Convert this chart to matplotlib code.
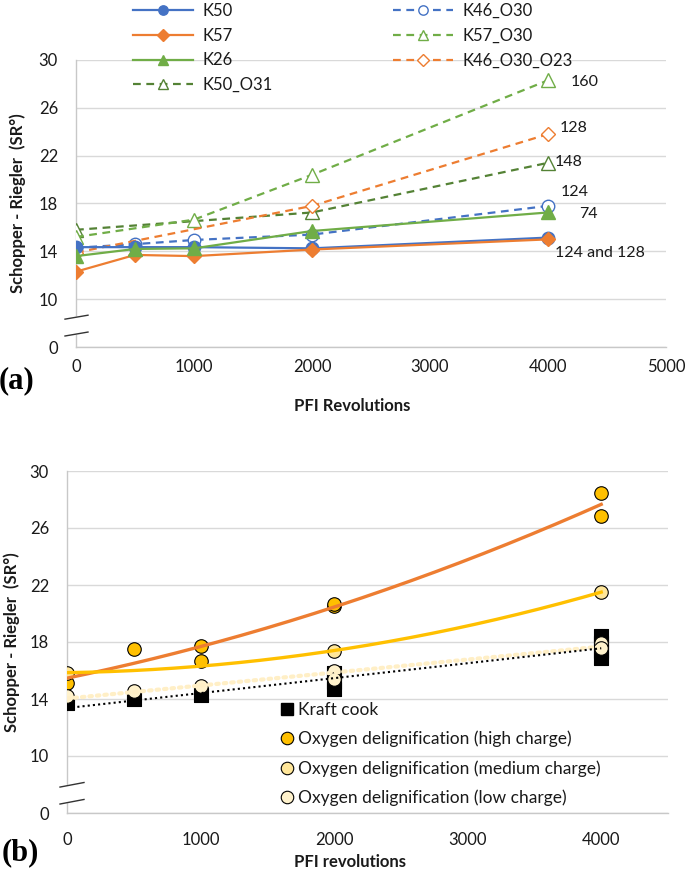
import matplotlib
matplotlib.use("Agg")
import matplotlib.pyplot as plt
from matplotlib.lines import Line2D
import numpy as np

plt.rcParams['font.family'] = ['Lato', 'DejaVu Sans']

# ---------------- data panel (a) ----------------
rev_a = [0, 500, 1000, 2000, 4000]
k50 = [14.35, 14.35, 14.35, 14.25, 15.15]
k57 = [12.3, 13.7, 13.6, 14.15, 15.0]
k26 = [13.6, 14.2, 14.25, 15.7, 17.25]
k46_o30 = [14.3, 14.6, 14.95, 15.4, 17.8]

rev_k50_o31 = [0, 2000, 4000]
k50_o31 = [15.8, 17.25, 21.4]
rev_k57_o30 = [0, 1000, 2000, 4000]
k57_o30 = [15.2, 16.65, 20.4, 28.3]
rev_k46_o30_o23 = [0, 2000, 4000]
k46_o30_o23 = [13.9, 17.8, 23.8]

end_labels = ['160', '128', '148', '124', '74', '124 and 128']
end_label_y = [28.2, 24.3, 21.5, 19.0, 17.1, 13.85]
end_label_x = [4190, 4095, 4060, 4110, 4265, 4060]

# ---------------- data panel (b) ----------------
kraft_x = [0, 500, 1000, 2000, 2000, 2000, 4000, 4000, 4000, 4000]
kraft_y = [13.7, 14.0, 14.3, 14.7, 15.2, 15.8, 16.9, 17.4, 17.9, 18.4]
high_x = [0, 500, 1000, 1000, 2000, 2000, 4000, 4000]
high_y = [15.15, 17.5, 17.75, 16.7, 20.5, 20.65, 28.45, 26.85]
med_x = [0, 2000, 4000]
med_y = [15.85, 17.4, 21.5]
low_x = [0, 500, 1000, 2000, 2000, 4000, 4000]
low_y = [14.2, 14.55, 14.9, 15.95, 15.4, 17.95, 17.6]

ytick_vals = [6, 10, 14, 18, 22, 26, 30]   # 6 is where the broken axis shows 0
ytick_labels = ['0', '10', '14', '18', '22', '26', '30']

blue = '#4472C4'
orange = '#ED7D31'
green = '#70AD47'
dgreen = '#548235'
grid_c = '#D9D9D9'
txt_c = '#1a1a1a'

W, H = 685, 875
fig = plt.figure(figsize=(W / 100, H / 100), dpi=100)


def px_axes(left, top, right, bottom):
    return fig.add_axes([left / W, 1 - bottom / H, (right - left) / W, (bottom - top) / H])


def style_axes(ax, xlim, xticks, xpad):
    ax.set_xlim(*xlim)
    ax.set_ylim(6, 30)
    ax.set_xticks(xticks)
    ax.set_yticks(ytick_vals)
    ax.set_yticklabels(ytick_labels)
    ax.grid(axis='y', color=grid_c, lw=1.0, zorder=0)
    ax.set_axisbelow(True)
    for s in ['top', 'right']:
        ax.spines[s].set_visible(False)
    for s in ['left', 'bottom']:
        ax.spines[s].set_color('#C8C8C8')
        ax.spines[s].set_linewidth(1.0)
    ax.tick_params(axis='both', length=0, labelsize=12, colors=txt_c)
    ax.tick_params(axis='y', pad=13)
    ax.tick_params(axis='x', pad=xpad)


def axis_break(ax, x0, x1, ya, yb, slope):
    tr = ax.get_yaxis_transform()
    poly_x = [x0, x1, x1, x0]
    poly_y = [ya, ya + slope, yb + slope, yb]
    ax.fill(poly_x, poly_y, color='white', transform=tr, clip_on=False, zorder=5)
    for y in (ya, yb):
        ax.plot([x0, x1], [y, y + slope], color='#333333', lw=1.0,
                transform=tr, clip_on=False, zorder=6)


# ---------------- panel (a) ----------------
ax1 = px_axes(76, 60, 666, 347)
style_axes(ax1, (0, 5000), [0, 1000, 2000, 3000, 4000, 5000], 9)

ms = 9
h_k50, = ax1.plot(rev_a, k50, '-o', color=blue, lw=1.6, ms=ms, label='K50', zorder=4)
h_k57, = ax1.plot(rev_a, k57, '-D', color=orange, lw=1.6, ms=7.5, label='K57', zorder=4)
h_k26, = ax1.plot(rev_a, k26, '-^', color=green, lw=1.6, ms=10, label='K26', zorder=4)
h_k50o31, = ax1.plot(rev_k50_o31, k50_o31, '--^', color=dgreen, lw=1.6, ms=10,
                     mfc='white', dashes=(3.5, 2.5), label='K50_O31', zorder=3)
h_k46o30, = ax1.plot(rev_a, k46_o30, '--o', color=blue, lw=1.6, ms=ms,
                     mfc='white', dashes=(3.5, 2.5), label='K46_O30', zorder=3)
h_k57o30, = ax1.plot(rev_k57_o30, k57_o30, '--^', color=green, lw=1.6, ms=10,
                     mfc='white', dashes=(3.5, 2.5), label='K57_O30', zorder=3)
h_k46o30o23, = ax1.plot(rev_k46_o30_o23, k46_o30_o23, '--D', color=orange, lw=1.6, ms=7.5,
                        mfc='white', dashes=(3.5, 2.5), label='K46_O30_O23', zorder=3)

for lab, x, y in zip(end_labels, end_label_x, end_label_y):
    ax1.text(x, y, lab, fontsize=11.5, color=txt_c, ha='left', va='center')

leg_kw = dict(frameon=False, fontsize=12, handlelength=3.6, handletextpad=0.6,
              labelspacing=0.52, markerscale=0.75, borderpad=0, borderaxespad=0)
leg1 = fig.legend(handles=[h_k50, h_k57, h_k26, h_k50o31], loc='upper left',
                  bbox_to_anchor=(133 / W, 1 - 3 / H), **leg_kw)
leg2 = fig.legend(handles=[h_k46o30, h_k57o30, h_k46o30o23], loc='upper left',
                  bbox_to_anchor=(393 / W, 1 - 3 / H), **leg_kw)
for lg in (leg1, leg2):
    for t in lg.get_texts():
        t.set_color(txt_c)

ax1.set_ylabel('Schopper - Riegler  (SR°)', fontsize=12, fontweight='bold', color=txt_c)
ax1.yaxis.set_label_coords(-50 / 590, 0.5)
fig.text(352 / W, 1 - 406 / H, 'PFI Revolutions', fontsize=12, fontweight='bold',
         color=txt_c, ha='center', va='center')
fig.text(17 / W, 1 - 381 / H, '(a)', fontsize=22, fontweight='bold',
         family='Liberation Serif', ha='center', va='center')
axis_break(ax1, -11 / 590, 12 / 590, 6.92, 8.33, 0.33)

# ---------------- panel (b) ----------------
ax2 = px_axes(67, 471, 668, 813)
style_axes(ax2, (0, 4500), [0, 1000, 2000, 3000, 4000], 14)

sc_kw = dict(s=95, edgecolors='black', linewidths=0.8, zorder=3)
ax2.scatter(kraft_x, kraft_y, marker='s', color='black', **sc_kw)
ax2.scatter(high_x, high_y, marker='o', color='#FFC000', **sc_kw)
ax2.scatter(med_x, med_y, marker='o', color='#FFE699', **sc_kw)
ax2.scatter(low_x, low_y, marker='o', color='#FFF2CC', **sc_kw)

xf = np.linspace(0, 4000, 200)
ax2.plot(xf, np.polyval(np.polyfit(high_x, high_y, 2), xf), color=orange, lw=2.4, zorder=4)
ax2.plot(xf, np.polyval(np.polyfit(med_x, med_y, 2), xf), color='#FFC000', lw=2.4, zorder=4)
ax2.plot(xf, np.polyval(np.polyfit(low_x, low_y, 1), xf), color='#FFEFC6', lw=3.0,
         ls=(0, (0.6, 1.2)), dash_capstyle='round', zorder=4)
ax2.plot(xf, np.polyval(np.polyfit(kraft_x, kraft_y, 1), xf), color='black', lw=1.5,
         ls=(0, (1, 1.5)), zorder=4)

hb = [Line2D([], [], ls='', marker='s', ms=9, mfc='black', mec='black', label='Kraft cook'),
      Line2D([], [], ls='', marker='o', ms=9, mfc='#FFC000', mec='black', mew=0.8,
             label='Oxygen delignification (high charge)'),
      Line2D([], [], ls='', marker='o', ms=9, mfc='#FFE699', mec='black', mew=0.8,
             label='Oxygen delignification (medium charge)'),
      Line2D([], [], ls='', marker='o', ms=9, mfc='#FFF2CC', mec='black', mew=0.8,
             label='Oxygen delignification (low charge)')]
leg3 = ax2.legend(handles=hb, loc='upper left', bbox_to_anchor=(280 / W, 1 - 702 / H),
                  bbox_transform=fig.transFigure, frameon=False, fontsize=12.5,
                  handlelength=0.8, handletextpad=0.25, labelspacing=0.74,
                  borderpad=0, borderaxespad=0)
for t in leg3.get_texts():
    t.set_color(txt_c)

ax2.set_ylabel('Schopper - Riegler  (SR°)', fontsize=12, fontweight='bold', color=txt_c)
ax2.yaxis.set_label_coords(-47 / 601, 0.5)
fig.text(350 / W, 1 - 862 / H, 'PFI revolutions', fontsize=12, fontweight='bold',
         color=txt_c, ha='center', va='center')
fig.text(20 / W, 1 - 853 / H, '(b)', fontsize=22, fontweight='bold',
         family='Liberation Serif', ha='center', va='center')
axis_break(ax2, -7 / 601, 17 / 601, 6.63, 7.82, 0.32)

fig.savefig('out.png', dpi=100)
